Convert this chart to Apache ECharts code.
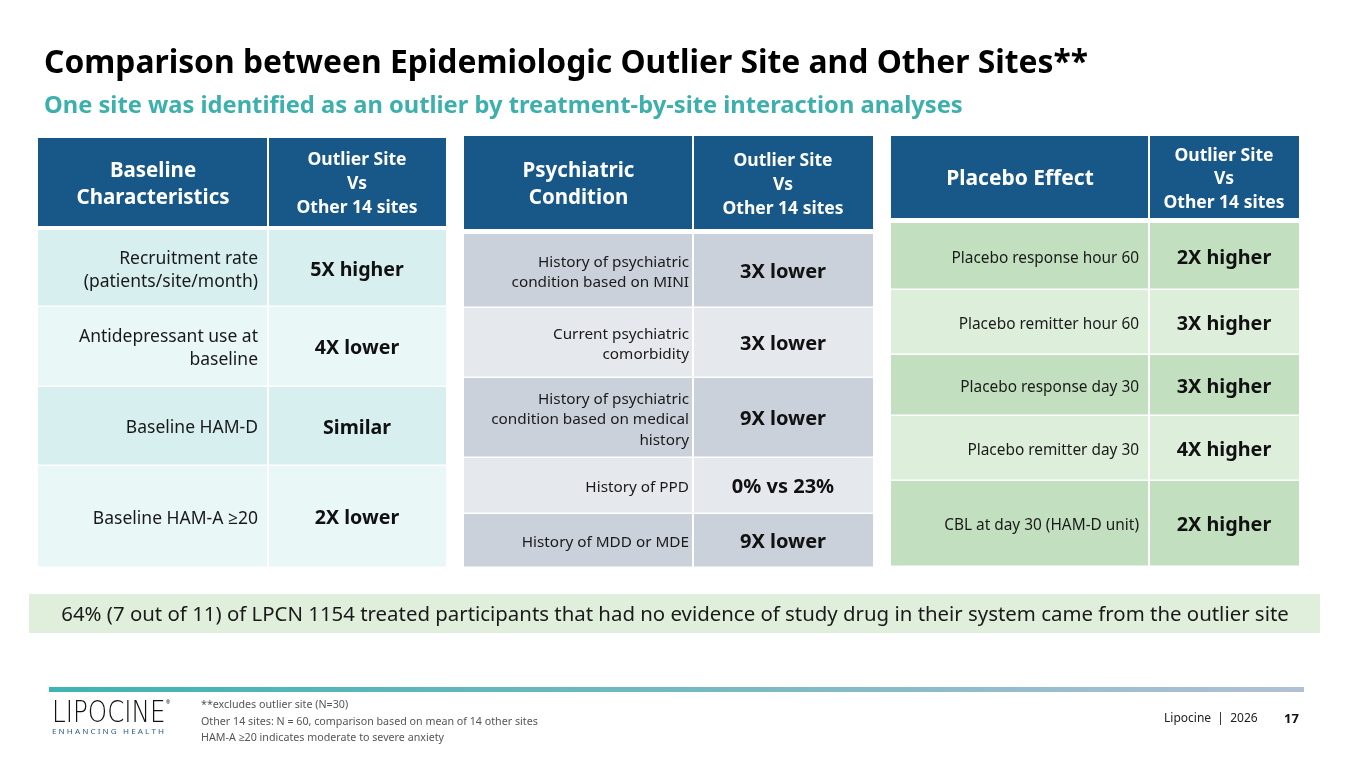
<!DOCTYPE html>
<html>
<head>
<meta charset="utf-8">
<script src="https://cdn.jsdelivr.net/npm/echarts@6/dist/echarts.min.js"></script>
<style>
html, body { margin: 0; padding: 0; background: #fff; }
#main { width: 1350px; height: 759px; }
</style>
</head>
<body>
<div id="main"></div>
<script>
// ---- slide text / table contents ----
var titleText = 'Comparison between Epidemiologic Outlier Site and Other Sites**';
var subtitleText = 'One site was identified as an outlier by treatment-by-site interaction analyses';
var compareHeader = 'Outlier Site\nVs\nOther 14 sites';

var baselineHeader = 'Baseline\nCharacteristics';
var baselineLabels = ['Recruitment rate\n(patients/site/month)', 'Antidepressant use at\nbaseline', 'Baseline HAM-D', 'Baseline HAM-A \u226520'];
var baselineValues = ['5X higher', '4X lower', 'Similar', '2X lower'];

var psychHeader = 'Psychiatric\nCondition';
var psychLabels = ['History of psychiatric\ncondition based on MINI', 'Current psychiatric\ncomorbidity', 'History of psychiatric\ncondition based on medical\nhistory', 'History of PPD', 'History of MDD or MDE'];
var psychValues = ['3X lower', '3X lower', '9X lower', '0% vs 23%', '9X lower'];

var placeboHeader = 'Placebo Effect';
var placeboLabels = ['Placebo response hour 60', 'Placebo remitter hour 60', 'Placebo response day 30', 'Placebo remitter day 30', 'CBL at day 30 (HAM-D unit)'];
var placeboValues = ['2X higher', '3X higher', '3X higher', '4X higher', '2X higher'];

var bannerText = '64% (7 out of 11) of LPCN 1154 treated participants that had no evidence of study drug in their system came from the outlier site';
var footnotes = ['**excludes outlier site (N=30)', 'Other 14 sites: N = 60, comparison based on mean of 14 other sites', 'HAM-A \u226520 indicates moderate to severe anxiety'];

// ---- layout / styling (pixels) ----
var FONT = '"Noto Sans", "Open Sans", sans-serif';
var HEAD_BLUE = '#185889';
var TEXT_DY = 2.5; // Noto Sans sits a bit high compared to the slide font

var tables = [
    {
        header: baselineHeader, labels: baselineLabels, values: baselineValues,
        left: 38, top: 138, width: 408, split: 230, headH: 88, gap: 4,
        rows: [77, 80, 79, 102], fills: ['#d7efef', '#e9f7f7'],
        headSize: 20.5, headLH: 27, cmpSize: 17.5, cmpLH: 24,
        labelSize: 17.5, labelLH: 23, labelPad: 10, valueSize: 19.6
    },
    {
        header: psychHeader, labels: psychLabels, values: psychValues,
        left: 464, top: 136, width: 409, split: 229, headH: 93, gap: 5,
        rows: [74, 70, 80, 56, 54], fills: ['#cbd1db', '#e5e8ed'],
        headSize: 20.5, headLH: 27, cmpSize: 17.5, cmpLH: 24,
        labelSize: 15.3, labelLH: 20.5, labelPad: 4, valueSize: 20
    },
    {
        header: placeboHeader, labels: placeboLabels, values: placeboValues,
        left: 891, top: 136, width: 408, split: 258, headH: 82, gap: 5,
        rows: [67, 65, 61, 65, 86], fills: ['#c2e0bf', '#ddefdb'],
        headSize: 21, headLH: 27, cmpSize: 17.5, cmpLH: 23.5,
        labelSize: 15.4, labelLH: 20, labelPad: 10, valueSize: 19.8
    }
];

function totalHeight(t) {
    return t.headH + t.gap + t.rows.reduce(function (a, b) { return a + b; }, 0);
}

function makeRenderItem(t) {
    return function (params, api) {
        var i = api.value(0);
        var y0, y1, fill;
        if (i === 0) {
            y0 = 0; y1 = t.headH;
            fill = HEAD_BLUE;
        } else {
            y0 = t.headH + t.gap;
            for (var k = 0; k < i - 1; k++) y0 += t.rows[k];
            y1 = y0 + t.rows[i - 1] - 1.5;
            fill = t.fills[(i - 1) % 2];
        }
        var p0 = api.coord([0, y0]);
        var pS = api.coord([t.split, y1]);
        var pE = api.coord([t.width, y1]);
        var cy = (p0[1] + pS[1]) / 2 + TEXT_DY;
        var children = [
            { type: 'rect', shape: { x: p0[0], y: p0[1], width: pS[0] - p0[0] - 1, height: pS[1] - p0[1] }, style: { fill: fill } },
            { type: 'rect', shape: { x: pS[0] + 1, y: p0[1], width: pE[0] - pS[0] - 1, height: pS[1] - p0[1] }, style: { fill: fill } }
        ];
        if (i === 0) {
            children.push({ type: 'text', style: { text: t.header, x: (p0[0] + pS[0]) / 2, y: cy, align: 'center', verticalAlign: 'middle', fontFamily: FONT, fontSize: t.headSize, fontWeight: 'bold', lineHeight: t.headLH, fill: '#fff' } });
            children.push({ type: 'text', style: { text: compareHeader, x: (pS[0] + pE[0]) / 2, y: cy, align: 'center', verticalAlign: 'middle', fontFamily: FONT, fontSize: t.cmpSize, fontWeight: 'bold', lineHeight: t.cmpLH, fill: '#fff' } });
        } else {
            children.push({ type: 'text', style: { text: t.labels[i - 1], x: pS[0] - t.labelPad, y: cy, align: 'right', verticalAlign: 'middle', fontFamily: FONT, fontSize: t.labelSize, lineHeight: t.labelLH, fill: '#1a1a1a' } });
            children.push({ type: 'text', style: { text: t.values[i - 1], x: (pS[0] + pE[0]) / 2, y: cy, align: 'center', verticalAlign: 'middle', fontFamily: FONT, fontSize: t.valueSize, fontWeight: 'bold', fill: '#111' } });
        }
        return { type: 'group', children: children };
    };
}

var grids = [], xAxes = [], yAxes = [], series = [];
tables.forEach(function (t, n) {
    grids.push({ left: t.left, top: t.top, width: t.width, height: totalHeight(t) });
    xAxes.push({ gridIndex: n, type: 'value', min: 0, max: t.width, show: false });
    yAxes.push({ gridIndex: n, type: 'value', min: 0, max: totalHeight(t), inverse: true, show: false });
    var data = [[0]];
    t.labels.forEach(function (l, k) { data.push([k + 1]); });
    series.push({
        type: 'custom', xAxisIndex: n, yAxisIndex: n, silent: true,
        renderItem: makeRenderItem(t), data: data, clip: false
    });
});

var graphics = [
    { type: 'text', x: 44, y: 64, style: { text: titleText, fontFamily: FONT, fontSize: 31.8, fontWeight: 'bold', fill: '#000', verticalAlign: 'middle' } },
    { type: 'text', x: 44, y: 106, style: { text: subtitleText, fontFamily: FONT, fontSize: 23.7, fontWeight: 'bold', fill: '#3db0ad', verticalAlign: 'middle' } },
    { type: 'rect', shape: { x: 29, y: 594, width: 1291, height: 39 }, style: { fill: '#dfefdc' } },
    { type: 'text', x: 675, y: 615.5, style: { text: bannerText, fontFamily: FONT, fontSize: 20.4, fill: '#1a1a1a', align: 'center', verticalAlign: 'middle' } },
    { type: 'rect', shape: { x: 49, y: 687, width: 1255, height: 5 }, style: { fill: new echarts.graphic.LinearGradient(0, 0, 1, 0, [{ offset: 0, color: '#3fb3b2' }, { offset: 0.55, color: '#79b9c2' }, { offset: 1, color: '#b1c1d4' }]) } },
    { type: 'text', x: 52, y: 714, scaleX: 0.82, style: { text: 'LIPOCINE', fontFamily: '"DejaVu Sans"', fontWeight: 200, fontSize: 30, fill: '#111', verticalAlign: 'middle' } },
    { type: 'text', x: 166, y: 703, style: { text: '\u00ae', fontFamily: FONT, fontSize: 5, fill: '#111', verticalAlign: 'middle' } },
    { type: 'text', x: 52, y: 732, scaleX: 1.08, style: { text: 'E N H A N C I N G   H E A L T H', fontFamily: FONT, fontSize: 7.5, fill: '#2b5d8e', verticalAlign: 'middle' } },
    { type: 'text', x: 1164, y: 719, style: { text: 'Lipocine  |  2026', fontFamily: FONT, fontSize: 12, fill: '#222', verticalAlign: 'middle' } },
    { type: 'text', x: 1284, y: 719, style: { text: '17', fontFamily: FONT, fontSize: 13, fontWeight: 'bold', fill: '#111', verticalAlign: 'middle' } }
];
footnotes.forEach(function (f, k) {
    graphics.push({ type: 'text', x: 201, y: 705 + k * 16.5, style: { text: f, fontFamily: FONT, fontSize: 10.7, fill: '#555', verticalAlign: 'middle' } });
});

var chart = echarts.init(document.getElementById('main'));
chart.setOption({
    backgroundColor: '#fff',
    animation: false,
    grid: grids,
    xAxis: xAxes,
    yAxis: yAxes,
    series: series,
    graphic: graphics
});
</script>
</body>
</html>
